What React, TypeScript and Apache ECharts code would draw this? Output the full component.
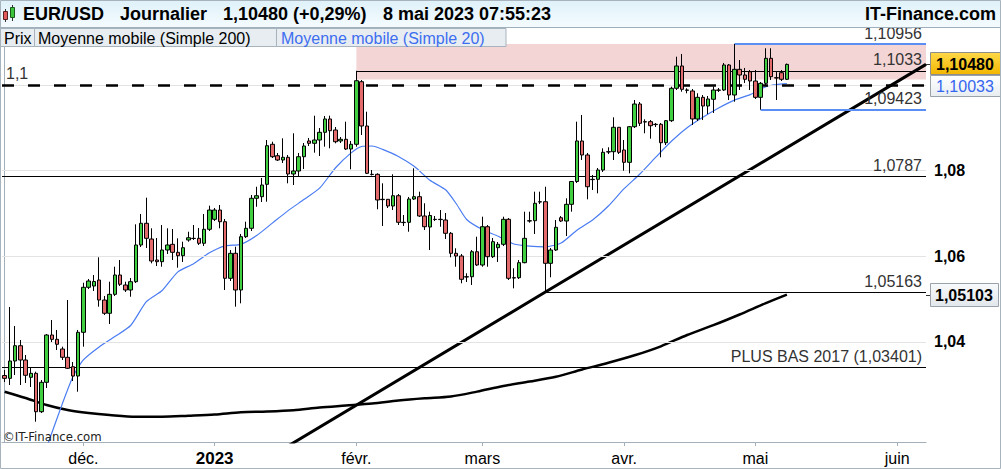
import React, { useEffect, useRef } from "react";
import * as echarts from "echarts";

const FONT = '"Liberation Sans", Arial, sans-serif';
const NARROW = '"Liberation Sans Narrow", "DejaVu Sans Condensed", sans-serif';

const FIRST_DAY = "2022-11-14";
const LAST_DAY = "2023-06-07";
const CLOSED_DAYS = ["2022-12-25"];
const MONTHS_FR = ["janv.", "févr.", "mars", "avr.", "mai", "juin", "juil.", "août", "sept.", "oct.", "nov.", "déc."];

// daily candles from 14 Nov 2022 : [open, high, low, close]
const ohlc: number[][] = [
  [1.03214, 1.03342, 1.03062, 1.03148], [1.03148, 1.04814, 1.02992, 1.03553], [1.03553, 1.0437, 1.03226, 1.0391],
  [1.0391, 1.04043, 1.02992, 1.03576], [1.03576, 1.03693, 1.03039, 1.03219], [1.03172, 1.03389, 1.02945, 1.03265],
  [1.03265, 1.03303, 1.02135, 1.02368], [1.02368, 1.03109, 1.02338, 1.03055], [1.03055, 1.04183, 1.02922, 1.0416],
  [1.0416, 1.0451, 1.03996, 1.04059], [1.04059, 1.04277, 1.03809, 1.03943], [1.03833, 1.03887, 1.03576, 1.03639],
  [1.03639, 1.04977, 1.03366, 1.03382], [1.03419, 1.03529, 1.03085, 1.03202], [1.03202, 1.04277, 1.02836, 1.04223],
  [1.04223, 1.05381, 1.03887, 1.05274], [1.05274, 1.05468, 1.05234, 1.05421], [1.05304, 1.05561, 1.05188, 1.05409],
  [1.05444, 1.05975, 1.04821, 1.04977], [1.04977, 1.05071, 1.04627, 1.04667], [1.04667, 1.05405, 1.04417, 1.0511],
  [1.0511, 1.05755, 1.05071, 1.05561], [1.05561, 1.05911, 1.05304, 1.05344], [1.05328, 1.05405, 1.05164, 1.05211],
  [1.05211, 1.05491, 1.05054, 1.05405], [1.05405, 1.06745, 1.05374, 1.06262], [1.06262, 1.06986, 1.06215, 1.06769],
  [1.06769, 1.07367, 1.06192, 1.06418], [1.06402, 1.06652, 1.05834, 1.05888], [1.05911, 1.06425, 1.05771, 1.05872],
  [1.05872, 1.06729, 1.05755, 1.06145], [1.06145, 1.06652, 1.06052, 1.06262], [1.06278, 1.06636, 1.05911, 1.06091],
  [1.06091, 1.06418, 1.05732, 1.06012], [1.06012, 1.06339, 1.05865, 1.06199], [1.06379, 1.06572, 1.06339, 1.06432],
  [1.06418, 1.06729, 1.06379, 1.06414], [1.06418, 1.06659, 1.06262, 1.06302], [1.06302, 1.06986, 1.06238, 1.06629],
  [1.06629, 1.0718, 1.06589, 1.07079], [1.06862, 1.07126, 1.06822, 1.07079], [1.07079, 1.07196, 1.06652, 1.06806],
  [1.06806, 1.06869, 1.05211, 1.05484], [1.05484, 1.06145, 1.05421, 1.06068], [1.06068, 1.06222, 1.04821, 1.05211],
  [1.05211, 1.06519, 1.049, 1.06456], [1.06456, 1.06806, 1.06425, 1.06652], [1.06652, 1.0743, 1.06589, 1.07353],
  [1.07353, 1.07623, 1.07156, 1.07413], [1.0739, 1.07827, 1.07266, 1.07663], [1.07679, 1.08714, 1.07273, 1.08581],
  [1.08614, 1.08674, 1.08294, 1.08324], [1.08347, 1.08411, 1.08224, 1.08247], [1.08247, 1.08754, 1.08177, 1.0831],
  [1.0831, 1.08364, 1.07703, 1.0792], [1.0792, 1.08871, 1.07663, 1.0799], [1.0799, 1.08411, 1.07857, 1.08324],
  [1.08324, 1.08644, 1.08037, 1.08574], [1.08691, 1.08761, 1.08574, 1.08637], [1.08637, 1.09282, 1.08418, 1.08714],
  [1.08714, 1.08994, 1.0834, 1.08894], [1.08894, 1.09275, 1.08558, 1.09205], [1.09205, 1.09282, 1.0852, 1.08931],
  [1.08948, 1.09018, 1.08637, 1.08674], [1.08691, 1.08784, 1.08644, 1.08731], [1.08731, 1.09142, 1.08481, 1.08504],
  [1.08504, 1.08691, 1.0803, 1.08614], [1.08614, 1.1033, 1.08558, 1.10099], [1.10076, 1.10116, 1.08831, 1.09041],
  [1.09041, 1.09375, 1.0792, 1.07936], [1.07913, 1.08013, 1.07885, 1.07908], [1.07913, 1.07936, 1.07096, 1.07313],
  [1.07329, 1.07703, 1.06706, 1.07322], [1.07329, 1.07336, 1.07126, 1.07173], [1.07173, 1.07913, 1.07079, 1.07413],
  [1.07413, 1.07453, 1.06729, 1.06792], [1.06792, 1.06963, 1.06706, 1.06785], [1.06792, 1.07383, 1.06572, 1.07336],
  [1.07336, 1.08053, 1.07313, 1.0739], [1.0739, 1.07507, 1.06916, 1.06939], [1.06939, 1.07236, 1.06612, 1.06689],
  [1.06682, 1.0704, 1.06145, 1.06951], [1.06862, 1.06939, 1.06822, 1.06857], [1.06862, 1.07079, 1.06689, 1.06855],
  [1.06846, 1.07009, 1.06402, 1.06535], [1.06535, 1.06565, 1.05975, 1.06068], [1.06068, 1.06185, 1.05755, 1.06005],
  [1.06005, 1.06052, 1.05367, 1.05461], [1.05521, 1.05601, 1.05398, 1.05514], [1.05521, 1.06145, 1.05328, 1.06105],
  [1.06105, 1.06456, 1.05771, 1.05795], [1.05795, 1.06923, 1.05755, 1.06689], [1.06689, 1.06729, 1.05755, 1.05989],
  [1.05989, 1.06425, 1.05958, 1.06339], [1.06199, 1.06332, 1.05865, 1.06278], [1.06278, 1.06923, 1.06238, 1.06862],
  [1.06862, 1.06892, 1.05444, 1.05484], [1.05498, 1.05718, 1.0525, 1.05491], [1.05498, 1.05911, 1.05468, 1.05849],
  [1.05849, 1.0704, 1.05834, 1.06418], [1.06829, 1.0704, 1.06783, 1.06822], [1.06829, 1.07507, 1.06519, 1.07236],
  [1.07273, 1.07507, 1.07219, 1.07266], [1.07273, 1.07623, 1.05163, 1.05834], [1.05834, 1.06192, 1.05508, 1.06145],
  [1.06145, 1.06846, 1.06122, 1.06675], [1.06899, 1.06939, 1.06799, 1.06822], [1.06822, 1.07353, 1.06472, 1.07212],
  [1.07212, 1.07757, 1.0704, 1.07745], [1.07745, 1.09142, 1.0771, 1.08691], [1.08691, 1.09298, 1.08247, 1.08364],
  [1.08364, 1.08411, 1.07329, 1.07623], [1.07796, 1.07897, 1.07546, 1.07789], [1.07796, 1.0806, 1.07469, 1.08013],
  [1.08013, 1.0852, 1.07967, 1.08427], [1.08441, 1.08544, 1.08387, 1.08434], [1.08441, 1.09244, 1.08247, 1.09011],
  [1.09011, 1.09018, 1.08387, 1.08427], [1.08481, 1.08714, 1.07997, 1.08193], [1.08193, 1.09041, 1.07936, 1.09025],
  [1.09025, 1.09648, 1.08994, 1.09555], [1.09555, 1.09602, 1.09041, 1.09104], [1.09142, 1.09198, 1.08871, 1.09135],
  [1.09142, 1.09181, 1.08745, 1.09048], [1.09081, 1.09111, 1.09018, 1.09074], [1.09081, 1.09111, 1.0831, 1.08651],
  [1.08651, 1.09181, 1.08597, 1.09165], [1.09165, 1.09959, 1.09135, 1.09922], [1.09922, 1.1066, 1.09882, 1.10443],
  [1.10443, 1.10723, 1.09842, 1.09898], [1.09882, 1.09922, 1.09805, 1.09875], [1.09859, 1.09905, 1.09065, 1.09205],
  [1.09205, 1.09805, 1.09158, 1.09711], [1.09711, 1.09765, 1.09181, 1.09508], [1.09508, 1.09742, 1.09321, 1.09672],
  [1.09665, 1.09959, 1.09345, 1.09882], [1.09882, 1.09929, 1.09835, 1.09875], [1.09882, 1.10513, 1.09859, 1.10466],
  [1.10466, 1.10489, 1.09648, 1.09765], [1.09765, 1.10956, 1.09609, 1.10365], [1.10365, 1.10583, 1.09882, 1.10232],
  [1.10232, 1.10396, 1.10046, 1.10132], [1.10309, 1.10349, 1.09882, 1.10092], [1.10092, 1.10349, 1.09672, 1.09711],
  [1.09711, 1.10069, 1.09423, 1.10038], [1.10038, 1.10856, 1.09999, 1.10622], [1.10622, 1.10856, 1.10116, 1.10193],
  [1.10169, 1.10302, 1.09648, 1.10162], [1.10286, 1.10349, 1.10092, 1.10132], [1.10132, 1.105, 1.10116, 1.1048],
];

const sma20: number[][] = [
  [7, 1.01194], [9, 1.01876], [11, 1.02558], [13, 1.03186], [15, 1.03578], [18, 1.0388], [21, 1.04123],
  [24, 1.04382], [27, 1.04938], [30, 1.05199], [33, 1.05634], [36, 1.05825], [39, 1.0608], [42, 1.06243],
  [45, 1.06278], [48, 1.06482], [51, 1.06773], [54, 1.07065], [57, 1.07322], [60, 1.07589], [63, 1.0806],
  [66, 1.08413], [68, 1.08563], [70, 1.08574], [72, 1.08495], [75, 1.08331], [78, 1.081], [81, 1.07773],
  [84, 1.07551], [86, 1.07231], [88, 1.06858], [91, 1.06622], [94, 1.06467], [97, 1.06285], [100, 1.06234],
  [103, 1.06218], [106, 1.06309], [109, 1.06608], [112, 1.06846], [115, 1.07173], [118, 1.07577], [121, 1.0792],
  [124, 1.08308], [127, 1.08684], [130, 1.09002], [133, 1.09245], [136, 1.09462], [139, 1.09646], [142, 1.09775],
  [145, 1.09962], [147, 1.10011], [149, 1.10033],
];
const sma200: number[][] = [
  [0, 1.02836], [4, 1.02689], [8, 1.02525], [12, 1.02408], [16, 1.02338], [20, 1.02291], [25, 1.02252],
  [30, 1.02252], [35, 1.02275], [40, 1.02303], [45, 1.02355], [50, 1.02373], [55, 1.02404], [60, 1.02467],
  [65, 1.02513], [70, 1.0256], [75, 1.0263], [80, 1.02682], [85, 1.02724], [90, 1.02838], [95, 1.02969],
  [100, 1.03072], [105, 1.03184], [110, 1.03354], [115, 1.03511], [120, 1.03686], [125, 1.03896], [130, 1.0416],
  [135, 1.04389], [140, 1.04639], [145, 1.04905], [149, 1.05103],
];

// rising support line : [day index, price]
const trendPoints: number[][] = [[50, 1.01275], [103, 1.05163], [175.5, 1.1048]];

const Y_MIN = 1.01661;
const Y_MAX = 1.1133;
const gridValues = [1.04, 1.06, 1.08, 1.1];
const yLabelValues = [1.04, 1.06, 1.08];

const ROUND_LEVEL = 1.1;
const levelValues = [1.1033, 1.0787, 1.05163, 1.03401];
const levelFrom: (string | null)[] = ["2023-02-01", null, "2023-03-15", null];
const levelTexts = ["1,1033", "1,0787", "1,05163", "PLUS BAS 2017 (1,03401)"];
const boxValues = [1.10956, 1.09423];
const boxFrom = ["2023-04-26", "2023-05-02"];
const zoneFrom = "2023-02-01";
const zoneTop = 1.10956;
const zoneBottom = 1.1013;

function buildDays(): string[] {
  const out: string[] = [];
  const d = new Date(FIRST_DAY + "T00:00:00Z");
  const end = new Date(LAST_DAY + "T00:00:00Z").getTime();
  while (d.getTime() <= end) {
    const s = d.toISOString().slice(0, 10);
    if (d.getUTCDay() !== 6 && CLOSED_DAYS.indexOf(s) < 0) out.push(s);
    d.setUTCDate(d.getUTCDate() + 1);
  }
  return out;
}

const days = buildDays();
const monthStarts = new Set<number>();
days.forEach((s, i) => {
  if (i > 0 && s.slice(0, 7) !== days[i - 1].slice(0, 7)) monthStarts.add(i);
});
const X_END = days.length - 0.5;
const fmtComma = (v: number, d: number) => v.toFixed(d).replace(".", ",");

export default function App() {
  const ref = useRef<HTMLDivElement>(null);

  useEffect(() => {
    document.body.style.margin = "0";
    if (!ref.current) return;
    const chart = echarts.init(ref.current, null, { renderer: "svg" });

    const levelLabel = (text: string, pos = "insideEndTop") => ({
      show: true,
      position: pos,
      formatter: text,
      color: "#333",
      fontSize: 16,
      fontFamily: FONT,
      distance: [4, 3],
    });

    const blackLines: any[] = [
      {
        yAxis: ROUND_LEVEL,
        lineStyle: { color: "#000", width: 2.5, type: [12, 14] },
        label: levelLabel("1,1", "insideStartTop"),
      },
    ];
    levelValues.forEach((v, k) => {
      const lineStyle = { color: "#000", width: 1, type: "solid" };
      const from = levelFrom[k];
      if (from === null) {
        blackLines.push({ yAxis: v, lineStyle, label: levelLabel(levelTexts[k]) });
      } else {
        blackLines.push([
          { coord: [days.indexOf(from), v], lineStyle, label: levelLabel(levelTexts[k]) },
          { coord: [X_END, v] },
        ]);
      }
    });
    const blueLines = boxValues.map((v, k) => [
      {
        coord: [days.indexOf(boxFrom[k]), v],
        lineStyle: { color: "#5b8ef2", width: 2, type: "solid" },
        label: levelLabel(fmtComma(v, 5)),
      },
      { coord: [X_END, v] },
    ]);

    const option: any = {
      animation: false,
      backgroundColor: "#ffffff",
      grid: { left: 2, top: 28, width: 924, height: 414, containLabel: false },
      xAxis: [
        {
          type: "category",
          data: days,
          boundaryGap: true,
          axisLine: { show: true, lineStyle: { color: "#a3afb9", width: 1 } },
          axisTick: {
            show: true,
            alignWithLabel: true,
            interval: (i: number) => monthStarts.has(i),
            length: 4,
            lineStyle: { color: "#a3afb9" },
          },
          axisLabel: {
            interval: (i: number) => monthStarts.has(i),
            formatter: (value: string) => {
              const m = Number(value.slice(5, 7)) - 1;
              return m === 0 ? "{y|" + value.slice(0, 4) + "}" : MONTHS_FR[m];
            },
            color: "#000",
            fontSize: 16,
            fontFamily: FONT,
            margin: 8,
            rich: { y: { fontWeight: "bold", fontSize: 17, fontFamily: FONT, color: "#000" } },
          },
          splitLine: { show: false },
        },
        { type: "value", min: -0.5, max: X_END, show: false },
      ],
      yAxis: {
        type: "value",
        position: "right",
        min: Y_MIN,
        max: Y_MAX,
        scale: true,
        axisLine: { show: true, lineStyle: { color: "#a3afb9" } },
        axisTick: { show: true, length: 5, customValues: yLabelValues, lineStyle: { color: "#a3afb9" } },
        axisLabel: {
          customValues: yLabelValues,
          formatter: (v: number) => fmtComma(v, 2),
          fontWeight: "bold",
          fontSize: 16,
          fontFamily: FONT,
          color: "#000",
          margin: 8,
        },
        splitLine: { show: false },
      },
      series: [
        {
          type: "line",
          xAxisIndex: 1,
          data: [[0, ROUND_LEVEL]],
          symbol: "none",
          lineStyle: { opacity: 0 },
          silent: true,
          z: 1,
          markLine: {
            silent: true,
            precision: 6,
            symbol: ["none", "none"],
            label: { show: false },
            lineStyle: { color: "#e3e3e3", width: 1, type: "solid" },
            data: gridValues.map((v) => ({ yAxis: v })),
          },
          markArea: {
            silent: true,
            itemStyle: { color: "#f3d5d5" },
            data: [[{ coord: [days.indexOf(zoneFrom), zoneTop] }, { coord: [X_END, zoneBottom] }]],
          },
        },
        {
          type: "line",
          xAxisIndex: 1,
          data: [[0, ROUND_LEVEL]],
          symbol: "none",
          lineStyle: { opacity: 0 },
          silent: true,
          z: 2,
          markLine: { silent: true, precision: 6, symbol: ["none", "none"], data: blackLines },
        },
        {
          type: "line",
          name: "Moyenne mobile (Simple 200)",
          data: sma200,
          symbol: "none",
          smooth: 0.3,
          lineStyle: { color: "#000", width: 2.5 },
          silent: true,
          z: 3,
        },
        {
          type: "line",
          name: "Moyenne mobile (Simple 20)",
          data: sma20,
          symbol: "none",
          smooth: 0.2,
          lineStyle: { color: "#4a7cf2", width: 1.2 },
          silent: true,
          z: 3,
        },
        {
          type: "line",
          xAxisIndex: 1,
          data: trendPoints,
          symbol: "none",
          lineStyle: { color: "#000", width: 3 },
          silent: true,
          z: 4,
        },
        {
          type: "candlestick",
          name: "Prix",
          data: ohlc.map(([o, h, l, c]) => [o, c, l, h]),
          barWidth: 4,
          silent: true,
          z: 5,
          itemStyle: {
            color: "#40cf40",
            color0: "#e46b6b",
            borderColor: "#000",
            borderColor0: "#000",
            borderWidth: 1,
          },
        },
        {
          type: "line",
          xAxisIndex: 1,
          data: [[0, ROUND_LEVEL]],
          symbol: "none",
          lineStyle: { opacity: 0 },
          silent: true,
          z: 6,
          markLine: { silent: true, precision: 6, symbol: ["none", "none"], data: blueLines },
        },
      ],
    };

    chart.setOption(option);

    const yPix = (v: number) => chart.convertToPixel({ yAxisIndex: 0 }, v) as number;
    const lastClose = ohlc[ohlc.length - 1][3];
    const lastSma20 = sma20[sma20.length - 1][1];
    const lastSma200 = sma200[sma200.length - 1][1];

    const txt = (x: number, y: number, text: string, font: string, fill: string, align = "left") => ({
      type: "text",
      x,
      y,
      z: 100,
      style: { text, font, fill, align, verticalAlign: "middle", textAlign: align, textVerticalAlign: "middle" },
    });
    const rect = (x: number, y: number, w: number, h: number, fill: any, stroke: string) => ({
      type: "rect",
      z: 100,
      shape: { x, y, width: w, height: h },
      style: { fill, stroke, lineWidth: 1 },
    });
    const vgrad = (a: string, b: string) =>
      new echarts.graphic.LinearGradient(0, 0, 0, 1, [
        { offset: 0, color: a },
        { offset: 1, color: b },
      ]);

    const y1 = yPix(lastClose);
    const t1 = Math.round(y1) - 11.5;
    const t2 = t1 + 23;
    const y3 = yPix(lastSma200);
    const t3 = Math.round(y3) - 11.5;

    const graphic: any[] = [
      rect(0, 0, 1001, 27, vgrad("#dff1f9", "#f4fbfe"), "none"),
      { type: "line", z: 100, shape: { x1: 0, y1: 27.5, x2: 1001, y2: 27.5 }, style: { stroke: "#9fb0bc", lineWidth: 1 } },
      { type: "line", z: 100, shape: { x1: 5.5, y1: 9, x2: 5.5, y2: 22 }, style: { stroke: "#333", lineWidth: 1 } },
      rect(3.5, 11.5, 4, 8, "#e25b5b", "#5a2020"),
      { type: "line", z: 100, shape: { x1: 12.5, y1: 5, x2: 12.5, y2: 21 }, style: { stroke: "#333", lineWidth: 1 } },
      rect(10.5, 7.5, 4, 10, "#3cc43c", "#1d5a1d"),
      txt(23, 14, "EUR/USD", "bold 18px " + FONT, "#000"),
      txt(120, 14, "Journalier", "bold 18px " + FONT, "#000"),
      txt(223, 14, "1,10480 (+0,29%)", "bold 18px " + FONT, "#000"),
      txt(383, 14, "8 mai 2023 07:55:23", "bold 18px " + FONT, "#000"),
      txt(996, 14, "IT-Finance.com", "bold 18px " + FONT, "#000", "right"),
      rect(0.5, 28.5, 34, 18, "#e8edf1", "#a7b3bd"),
      rect(34.5, 28.5, 242, 18, "#e8edf1", "#a7b3bd"),
      rect(276.5, 28.5, 229.5, 18, "#e8edf1", "#a7b3bd"),
      txt(4, 38, "Prix", "16px " + FONT, "#000"),
      txt(38, 38, "Moyenne mobile (Simple 200)", "16px " + FONT, "#000"),
      txt(281, 38, "Moyenne mobile (Simple 20)", "16px " + FONT, "#3d6ef0"),
      txt(3, 436, "©IT-Finance.com", "13px " + NARROW, "#222"),
      // price tags
      { type: "line", z: 100, shape: { x1: 926, y1: Math.round(y1) + 0.5, x2: 931, y2: Math.round(y1) + 0.5 }, style: { stroke: "#333", lineWidth: 1 } },
      rect(930.5, t1, 70, 22, vgrad("#ffd94a", "#f2b600"), "#8d8d8d"),
      txt(936, t1 + 11.5, fmtComma(lastClose, 5), "bold 16px " + FONT, "#000"),
      rect(930.5, t2, 70, 21, vgrad("#ffffff", "#e8edf0"), "#9aa3ab"),
      txt(936, t2 + 11, fmtComma(lastSma20, 5), "16px " + FONT, "#3466f0"),
      { type: "line", z: 100, shape: { x1: 926, y1: Math.round(y3) + 0.5, x2: 931, y2: Math.round(y3) + 0.5 }, style: { stroke: "#333", lineWidth: 1 } },
      rect(930.5, t3, 68, 23, vgrad("#f8fafb", "#e2e7eb"), "#9aa3ab"),
      txt(935, t3 + 12, fmtComma(lastSma200, 5), "bold 16px " + FONT, "#000"),
      rect(0.5, 0.5, 1000, 468, "none", "#a7b3bd"),
    ];

    chart.setOption({ graphic });

    return () => chart.dispose();
  }, []);

  return (
    <div
      ref={ref}
      style={{ position: "fixed", left: 0, top: 0, width: 1001, height: 469, background: "#fff" }}
    />
  );
}
